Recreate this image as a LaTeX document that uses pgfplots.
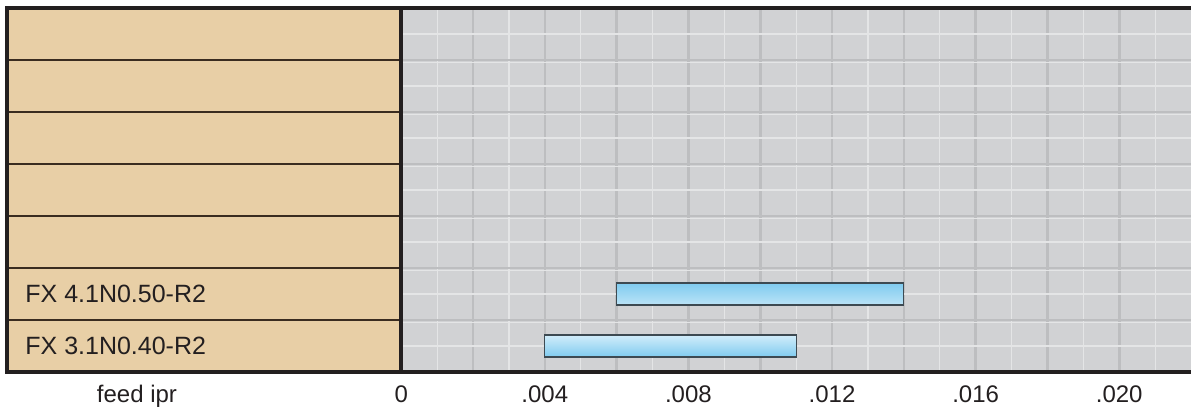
\documentclass[border=0pt]{standalone}
\usepackage{fontspec}
\setmainfont{Liberation Sans}
\usepackage{pgfplots}
\pgfplotsset{compat=1.18}
\definecolor{paneltan}{HTML}{E8CFA6}
\definecolor{gridbg}{HTML}{D1D2D4}
\definecolor{gridlight}{HTML}{E4E5E6}
\definecolor{griddark}{HTML}{BDBEC0}
\definecolor{framecol}{HTML}{231F20}
\definecolor{sepcol}{HTML}{3A2C20}
\definecolor{barblue}{HTML}{7FCBEF}
\definecolor{barwhite}{HTML}{F4FBFF}
\definecolor{barborder}{HTML}{3D4A52}
\pgfdeclareverticalshading{barshade}{100bp}{color(0bp)=(barblue); color(25bp)=(barblue); color(46bp)=(barwhite); color(75bp)=(barblue); color(100bp)=(barblue)}
\begin{document}
\begin{tikzpicture}
\begin{axis}[
  name=ax,
  scale only axis,
  width=592pt, height=182pt,
  xmin=-0.010981, xmax=0.022,
  ymin=0, ymax=7,
  clip=false,
  axis line style={draw=none},
  xbar stacked,
  reverse stacked plots=false,
  bar width=11pt,
  ytick=\empty,
  xtick={-0.00736,0,0.004,0.008,0.012,0.016,0.020},
  xticklabels={feed ipr,0,.004,.008,.012,.016,.020},
  scaled x ticks=false,
  major tick length=0pt,
  xticklabel style={font=\fontsize{12}{14}\selectfont, text=framecol, anchor=base, yshift=-15.5pt},
]
% grid panel
\fill[gridbg] (axis cs:0,0) rectangle (axis cs:0.022,7);
\pgfplotsinvokeforeach{1,3,...,21}{\draw[gridlight, line width=0.6pt] (axis cs:#1e-3,0) -- (axis cs:#1e-3,7);}
\pgfplotsinvokeforeach{2,4,...,20}{\draw[griddark, line width=1.3pt] (axis cs:#1e-3,0) -- (axis cs:#1e-3,7);}
\pgfplotsinvokeforeach{0.5,1.5,2.5,3.5,4.5,5.5,6.5}{\draw[gridlight, line width=0.6pt] (axis cs:0,#1) -- (axis cs:0.022,#1);}
\pgfplotsinvokeforeach{1,2,3,4,5,6}{
  \draw[griddark, line width=1.3pt] (axis cs:0,#1) -- (axis cs:0.022,#1);
  \draw[gridlight, line width=0.5pt] ([yshift=-1.2pt]axis cs:0,#1) -- ([yshift=-1.2pt]axis cs:0.022,#1);
}
% label panel
\fill[paneltan] (axis cs:-0.010981,0) rectangle (axis cs:0,7);
\pgfplotsinvokeforeach{1,2,3,4,5,6}{\draw[sepcol, line width=0.6pt] (axis cs:-0.010981,#1) -- (axis cs:0,#1);}
\node[anchor=west, font=\fontsize{12.5}{15}\selectfont, text=framecol, inner sep=0pt] at (axis cs:-0.010479,1.5) {FX 4.1N0.50-R2};
\node[anchor=west, font=\fontsize{12.5}{15}\selectfont, text=framecol, inner sep=0pt] at (axis cs:-0.010479,0.5) {FX 3.1N0.40-R2};
% floating bars: start, then length
\addplot[draw=none, fill=none] coordinates {(0.004,0.5) (0.006,1.5)};
\addplot[draw=barborder, line width=0.6pt, shade, shading=barshade] coordinates {(0.007,0.5) (0.008,1.5)};
% frame
\draw[framecol, line width=2pt] (axis cs:0.022,7) -- (axis cs:-0.010981,7) -- (axis cs:-0.010981,0) -- (axis cs:0.022,0);
\draw[framecol, line width=2pt] (axis cs:0,0) -- (axis cs:0,7);
\end{axis}
\pgfresetboundingbox
\path ([shift={(-3.5pt,-20pt)}]ax.south west) rectangle ([shift={(0pt,4pt)}]ax.north east);
\end{tikzpicture}
\end{document}
